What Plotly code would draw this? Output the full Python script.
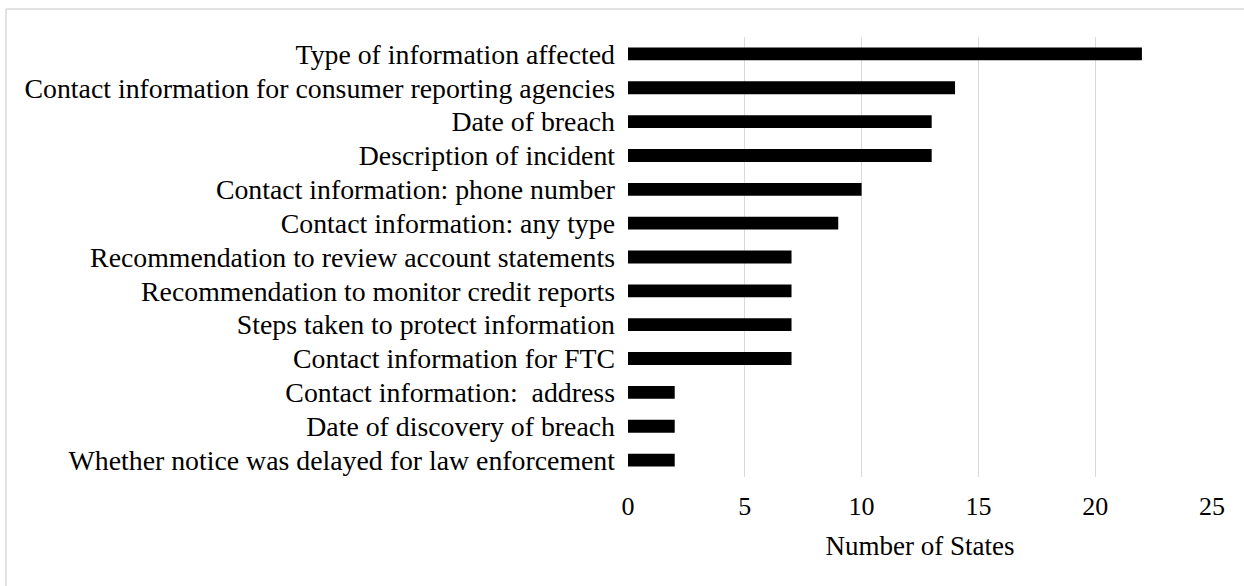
import plotly.graph_objects as go

categories = [
    "Type of information affected",
    "Contact information for consumer reporting agencies",
    "Date of breach",
    "Description of incident",
    "Contact information: phone number",
    "Contact information: any type",
    "Recommendation to review account statements",
    "Recommendation to monitor credit reports",
    "Steps taken to protect information",
    "Contact information for FTC",
    "Contact information:  address",
    "Date of discovery of breach",
    "Whether notice was delayed for law enforcement",
]
values = [22, 14, 13, 13, 10, 9, 7, 7, 7, 7, 2, 2, 2]
x_ticks = [0, 5, 10, 15, 20, 25]

FONT = "Liberation Serif, Times New Roman, serif"

fig = go.Figure(go.Bar(
    x=values,
    y=categories,
    orientation="h",
    marker=dict(color="#000000", line=dict(width=0)),
    width=0.38,
))

L, R, T, B = 628, 32, 37, 109
W, H = 1244, 586
pw, ph = W - L - R, H - T - B

fig.update_layout(
    width=W, height=H,
    margin=dict(l=L, r=R, t=T, b=B, autoexpand=False),
    paper_bgcolor="white",
    plot_bgcolor="white",
    font=dict(family=FONT, color="#000000"),
    showlegend=False,
    xaxis=dict(
        range=[0, 25],
        tickvals=x_ticks,
        showgrid=True,
        gridcolor="#d9d9d9",
        gridwidth=1,
        zeroline=False,
        showline=False,
        tickfont=dict(size=26, family=FONT),
        ticklabelstandoff=11,
        title=dict(text="Number of States", font=dict(size=27, family=FONT), standoff=16),
    ),
    yaxis=dict(
        autorange="reversed",
        tickmode="array",
        tickvals=categories,
        ticktext=categories,
        showgrid=False,
        zeroline=False,
        showline=False,
        tickfont=dict(size=27.8, family=FONT),
        ticklabelstandoff=12,
    ),
    shapes=[
        dict(type="line", xref="paper", yref="paper",
             x0=(6 - L) / pw, x1=(W + 10 - L) / pw,
             y0=(H - B - 9) / ph, y1=(H - B - 9) / ph,
             line=dict(color="#d9d9d9", width=1.5)),
        dict(type="line", xref="paper", yref="paper",
             x0=(6 - L) / pw, x1=(6 - L) / pw,
             y0=(H - B - 9) / ph, y1=-(B + 10) / ph,
             line=dict(color="#d9d9d9", width=1.5)),
    ],
)

fig.write_html("out.html", config={"displayModeBar": False},
               post_script="document.body.style.margin='0';")
